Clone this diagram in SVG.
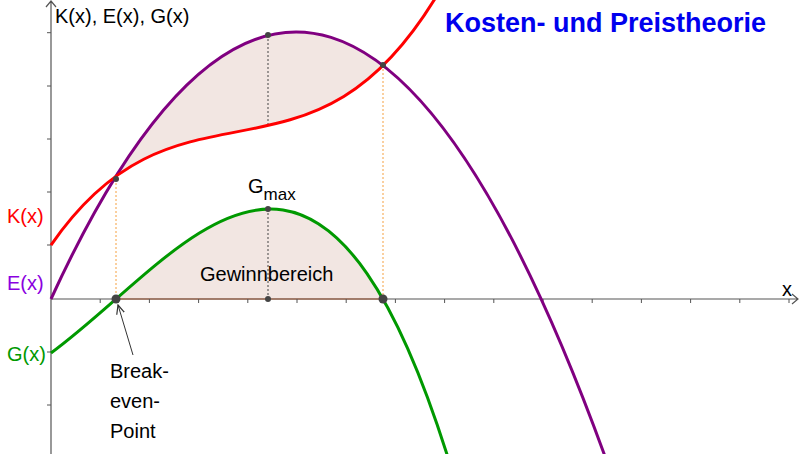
<svg xmlns="http://www.w3.org/2000/svg" width="800" height="454" viewBox="0 0 800 454">
<style>
text{font-family:"Liberation Sans",Arial,sans-serif}
.ax{stroke:#555;stroke-width:1.2;fill:none}
.tk{stroke:#555;stroke-width:1}
.c{fill:none;stroke-width:3}
.dot{fill:#444}
</style>
<defs>
<clipPath id="aboveK"><path d="M51,245.05 C184.3,51.7 317.7,220.6 451,-29.3 L451,-400 L51,-400 Z"/></clipPath>
<clipPath id="underE"><path d="M51,299 Q331,-311.2 611,473 L611,700 L51,700 Z"/></clipPath>
<clipPath id="underG"><path d="M51,352.95 C184.3,255.75 317.7,33.5 451,467.2 L451,700 L51,700 Z"/></clipPath>
<marker id="ar" markerWidth="10" markerHeight="10" refX="9" refY="5" orient="auto" markerUnits="userSpaceOnUse"><path d="M0,1 L9,5 L0,9" fill="none" stroke="#333" stroke-width="1.2"/></marker>
</defs>
<rect width="800" height="454" fill="#fff"/>
<g id="fills" fill="#f2e6e2">
<g clip-path="url(#underE)"><rect x="116" y="0" width="267" height="300" clip-path="url(#aboveK)"/></g>
<rect x="116" y="0" width="267" height="299" clip-path="url(#underG)"/>
</g>
<g id="axes">
<path class="ax" d="M51,454 V1 M46,7 L51,1 L56,7"/>
<path class="ax" d="M51,299 H798 M792,294 L798,299 L792,304"/>
<line x1="116" y1="299" x2="383" y2="299" stroke="#a0705a" stroke-width="1.5"/>
<path class="tk" d="M100.2,299v4M149.4,299v4M198.6,299v4M247.8,299v4M297,299v4M346.2,299v4M395.4,299v4M444.6,299v4M493.8,299v4M543,299v4M592.2,299v4M641.4,299v4M690.6,299v4M739.8,299v4M789,299v4M51,32.7h-4M51,86h-4M51,139h-4M51,192h-4M51,245h-4M51,352h-4M51,405h-4"/>
</g>
<g id="guides">
<path d="M116,179V299M383,65V299" stroke="#f5a040" stroke-width="1" stroke-dasharray="2,2"/>
<path d="M268,35V125M268,209V299" stroke="#444" stroke-width="1" stroke-dasharray="2,2"/>
</g>
<g id="curves">
<path id="E" class="c" stroke="#800080" d="M51,299 Q331,-311.2 611,473"/>
<path id="K" class="c" stroke="#ff0000" d="M51,245.05 C184.3,51.7 317.7,220.6 451,-29.3"/>
<path id="G" class="c" stroke="#009900" d="M51,352.95 C184.3,255.75 317.7,33.5 451,467.2"/>
</g>
<g id="points">
<circle class="dot" cx="116" cy="179" r="3"/><circle class="dot" cx="383" cy="65" r="3"/>
<circle class="dot" cx="268" cy="35" r="3"/><circle class="dot" cx="268" cy="209" r="3"/><circle class="dot" cx="268" cy="299" r="3"/>
<circle class="dot" cx="116" cy="299" r="4.5"/><circle class="dot" cx="383" cy="299" r="4.5"/>
</g>
<g id="connectors"><line x1="133" y1="355" x2="118" y2="305" stroke="#333" stroke-width="1" marker-end="url(#ar)"/></g>
<g id="labels" font-size="20">
<text x="55" y="23" fill="#000">K(x), E(x), G(x)</text>
<text x="445" y="32" fill="#0000ee" font-size="27" font-weight="bold">Kosten- und Preistheorie</text>
<text x="7" y="223" fill="#ff0000">K(x)</text>
<text x="7" y="290" fill="#8a00e0">E(x)</text>
<text x="7" y="361" fill="#009900">G(x)</text>
<text x="782" y="296">x</text>
<text x="248" y="193">G<tspan font-size="17" dy="7">max</tspan></text>
<text x="200" y="281">Gewinnbereich</text>
<text x="110" y="378">Break-</text>
<text x="110" y="408">even-</text>
<text x="110" y="438">Point</text>
</g>
</svg>
